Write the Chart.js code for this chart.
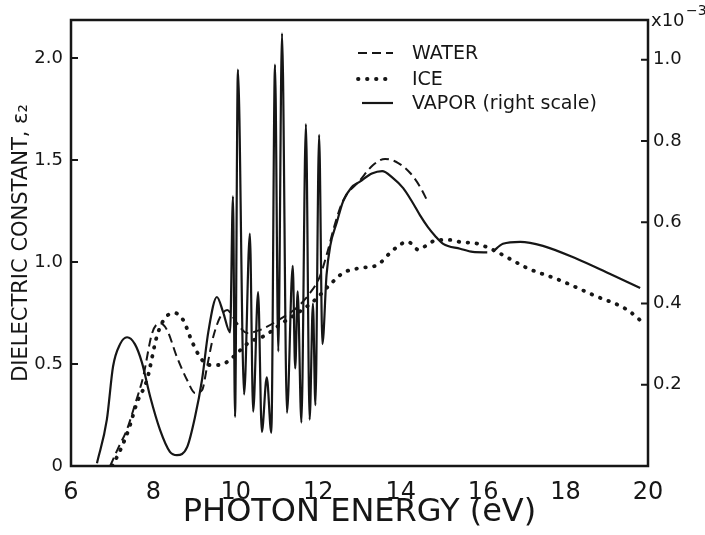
<!DOCTYPE html>
<html>
<head>
<meta charset="utf-8">
<script src="https://cdn.jsdelivr.net/npm/chart.js@4.4.1/dist/chart.umd.min.js"></script>
<style>
  html, body { margin: 0; padding: 0; background: #fff; }
  canvas { display: block; }
</style>
</head>
<body>
<canvas id="chart" width="705" height="535"></canvas>
<script>
// Photon energy (eV) and imaginary dielectric constant of water, ice and vapor
const waterEnergy = [6.95, 7.15, 7.36, 7.55, 7.75, 7.97, 8.16, 8.33, 8.57, 8.82, 9.01, 9.18, 9.30, 9.45, 9.62, 9.79, 9.93, 10.10, 10.27, 10.59, 11.07, 11.50, 11.80, 12.04, 12.21, 12.41, 12.60, 13.01, 13.33, 13.62, 13.94, 14.23, 14.47, 14.67];
const waterEps = [0, 0.09, 0.18, 0.30, 0.436, 0.652, 0.70, 0.667, 0.534, 0.42, 0.358, 0.372, 0.485, 0.632, 0.73, 0.765, 0.73, 0.68, 0.652, 0.667, 0.72, 0.78, 0.848, 0.93, 1.04, 1.19, 1.30, 1.40, 1.475, 1.505, 1.485, 1.436, 1.368, 1.29];

const iceEnergy = [7.0, 7.2, 7.4, 7.6, 7.84, 8.09, 8.28, 8.52, 8.72, 8.94, 9.13, 9.33, 9.62, 9.93, 10.30, 10.71, 11.12, 11.50, 11.92, 12.24, 12.60, 13.01, 13.43, 13.74, 13.94, 14.16, 14.30, 14.42, 14.64, 14.88, 15.20, 15.44, 15.85, 16.24, 16.65, 17.07, 17.87, 18.67, 19.50, 19.86];
const iceEps = [0, 0.08, 0.18, 0.31, 0.42, 0.64, 0.725, 0.75, 0.716, 0.608, 0.534, 0.495, 0.495, 0.534, 0.603, 0.64, 0.70, 0.75, 0.814, 0.88, 0.946, 0.97, 0.985, 1.044, 1.078, 1.10, 1.083, 1.06, 1.083, 1.108, 1.108, 1.098, 1.09, 1.059, 1.015, 0.97, 0.91, 0.838, 0.765, 0.706];

// vapor, in units of 1e-3 (right axis); null marks the break near 16.2 eV
const vaporEnergy = [6.63, 6.87, 7.02, 7.19, 7.36, 7.55, 7.72, 7.92, 8.16, 8.40, 8.57, 8.82, 9.01, 9.18, 9.33, 9.54, 9.69, 9.86,
  9.93, 9.98, 10.05, 10.20, 10.34, 10.42, 10.54, 10.63, 10.75, 10.86, 10.95, 11.03, 11.12, 11.24, 11.38, 11.44, 11.50, 11.59, 11.70, 11.79, 11.87, 11.93, 12.02, 12.10, 12.20,
  12.29, 12.45, 12.60, 12.80, 13.01, 13.30, 13.55, 13.80, 14.06, 14.28, 14.47, 14.66, 14.83, 15.03, 15.44, 15.75, 16.10, 16.17,
  16.24, 16.48, 16.90, 17.45, 18.27, 19.07, 19.81];
const vaporEps = [0.007, 0.114, 0.245, 0.30, 0.317, 0.30, 0.255, 0.171, 0.089, 0.035, 0.027, 0.047, 0.121, 0.213, 0.329, 0.416, 0.379, 0.329,
  0.664, 0.121, 0.976, 0.176, 0.572, 0.134, 0.428, 0.084, 0.218, 0.082, 0.988, 0.282, 1.065, 0.131, 0.493, 0.24, 0.43, 0.107, 0.842, 0.114, 0.40, 0.15, 0.815, 0.30, 0.47,
  0.542, 0.60, 0.651, 0.685, 0.70, 0.72, 0.726, 0.71, 0.684, 0.65, 0.617, 0.588, 0.567, 0.547, 0.535, 0.527, 0.526, null,
  0.528, 0.547, 0.552, 0.542, 0.510, 0.473, 0.438];

const seriesLabels = ['WATER', 'ICE', 'VAPOR (right scale)'];
const energyTicks = [6, 8, 10, 12, 14, 16, 18, 20];
const epsTicks = [0, 0.5, 1.0, 1.5, 2.0];
const epsTickLabels = ['0', '0.5', '1.0', '1.5', '2.0'];
const vaporTicks = [0.2, 0.4, 0.6, 0.8, 1.0];
const vaporTickLabels = ['0.2', '0.4', '0.6', '0.8', '1.0'];

const INK = '#161616';
const FONT = "'DejaVu Sans', 'Liberation Sans', sans-serif";

const toPoints = (xs, ys) => xs.map((x, i) => ({ x: x, y: ys[i] }));

// frame, inward tick marks, legend and the axis exponent
const decorPlugin = {
  id: 'decor',
  afterDatasetsDraw(chart) {
    const { ctx, chartArea: a, scales } = chart;
    ctx.save();
    ctx.strokeStyle = INK;
    ctx.lineWidth = 2.5;
    ctx.setLineDash([]);
    ctx.strokeRect(a.left, a.top, a.right - a.left, a.bottom - a.top);

    ctx.lineWidth = 2;
    ctx.beginPath();
    scales.y.ticks.forEach(t => {
      if (t.value <= 0) return;
      const py = scales.y.getPixelForValue(t.value);
      ctx.moveTo(a.left, py); ctx.lineTo(a.left + 7, py);
    });
    scales.y2.ticks.forEach(t => {
      const py = scales.y2.getPixelForValue(t.value);
      ctx.moveTo(a.right, py); ctx.lineTo(a.right - 7, py);
    });
    ctx.stroke();

    // legend
    const rows = [53, 79, 103];
    ctx.font = '19px ' + FONT;
    ctx.fillStyle = INK;
    ctx.textBaseline = 'middle';
    ctx.textAlign = 'left';
    chart.data.datasets.forEach((ds, i) => {
      const y = rows[i];
      ctx.save();
      ctx.lineWidth = ds.borderWidth;
      ctx.lineCap = ds.borderCapStyle || 'butt';
      ctx.setLineDash(ds.borderDash || []);
      ctx.beginPath();
      ctx.moveTo(i === 2 ? 362 : 358, y);
      ctx.lineTo(393, y);
      ctx.stroke();
      ctx.restore();
      ctx.fillText(ds.label, 412, y + 1);
    });

    // right-axis multiplier
    ctx.font = '18px ' + FONT;
    ctx.fillText('x10', 651, 21);
    ctx.font = '14px ' + FONT;
    ctx.fillText('\u22123', 686, 11);
    ctx.restore();
  }
};

new Chart(document.getElementById('chart'), {
  type: 'line',
  data: {
    datasets: [
      {
        label: seriesLabels[0],
        data: toPoints(waterEnergy, waterEps),
        yAxisID: 'y',
        borderColor: INK,
        borderWidth: 2,
        borderDash: [9, 5],
        pointRadius: 0,
        cubicInterpolationMode: 'monotone',
        fill: false
      },
      {
        label: seriesLabels[1],
        data: toPoints(iceEnergy, iceEps),
        yAxisID: 'y',
        borderColor: INK,
        borderWidth: 3.8,
        borderDash: [0.5, 8.5],
        borderCapStyle: 'round',
        pointRadius: 0,
        cubicInterpolationMode: 'monotone',
        fill: false
      },
      {
        label: seriesLabels[2],
        data: toPoints(vaporEnergy, vaporEps),
        yAxisID: 'y2',
        borderColor: INK,
        borderWidth: 2.2,
        pointRadius: 0,
        cubicInterpolationMode: 'monotone',
        spanGaps: false,
        fill: false
      }
    ]
  },
  options: {
    responsive: false,
    animation: false,
    layout: { padding: { top: 20, left: 0, right: 0, bottom: 0 } },
    plugins: { legend: { display: false }, tooltip: { enabled: false } },
    scales: {
      x: {
        type: 'linear',
        min: 6,
        max: 20,
        afterBuildTicks: s => { s.ticks = energyTicks.map(v => ({ value: v })); },
        ticks: {
          color: INK,
          padding: 12,
          maxRotation: 0,
          autoSkip: false,
          font: { family: FONT, size: 24 },
          callback: (v, i) => String(energyTicks[i])
        },
        grid: { display: false, drawTicks: false },
        border: { display: false },
        title: {
          display: true,
          text: 'PHOTON ENERGY (eV)',
          color: INK,
          font: { family: FONT, size: 32 },
          padding: { top: 0, bottom: 3 }
        },
        afterFit: s => { s.height = 69; }
      },
      y: {
        type: 'linear',
        position: 'left',
        min: 0,
        max: 2.186,
        afterBuildTicks: s => { s.ticks = epsTicks.map(v => ({ value: v })); },
        ticks: {
          color: INK,
          padding: 8,
          font: { family: FONT, size: 18 },
          callback: (v, i) => epsTickLabels[i]
        },
        grid: { display: false, drawTicks: false },
        border: { display: false },
        title: {
          display: true,
          text: 'DIELECTRIC CONSTANT, \u03b5\u2082',
          color: INK,
          font: { family: FONT, size: 21 },
          padding: { top: 9, bottom: 0 }
        },
        afterFit: s => { s.width = 71; }
      },
      y2: {
        type: 'linear',
        position: 'right',
        min: 0,
        max: 1.098,
        afterBuildTicks: s => { s.ticks = vaporTicks.map(v => ({ value: v })); },
        ticks: {
          color: INK,
          padding: 5,
          font: { family: FONT, size: 18 },
          callback: (v, i) => vaporTickLabels[i]
        },
        grid: { display: false, drawTicks: false },
        border: { display: false },
        afterFit: s => { s.width = 57; }
      }
    }
  },
  plugins: [decorPlugin]
});
</script>
</body>
</html>
